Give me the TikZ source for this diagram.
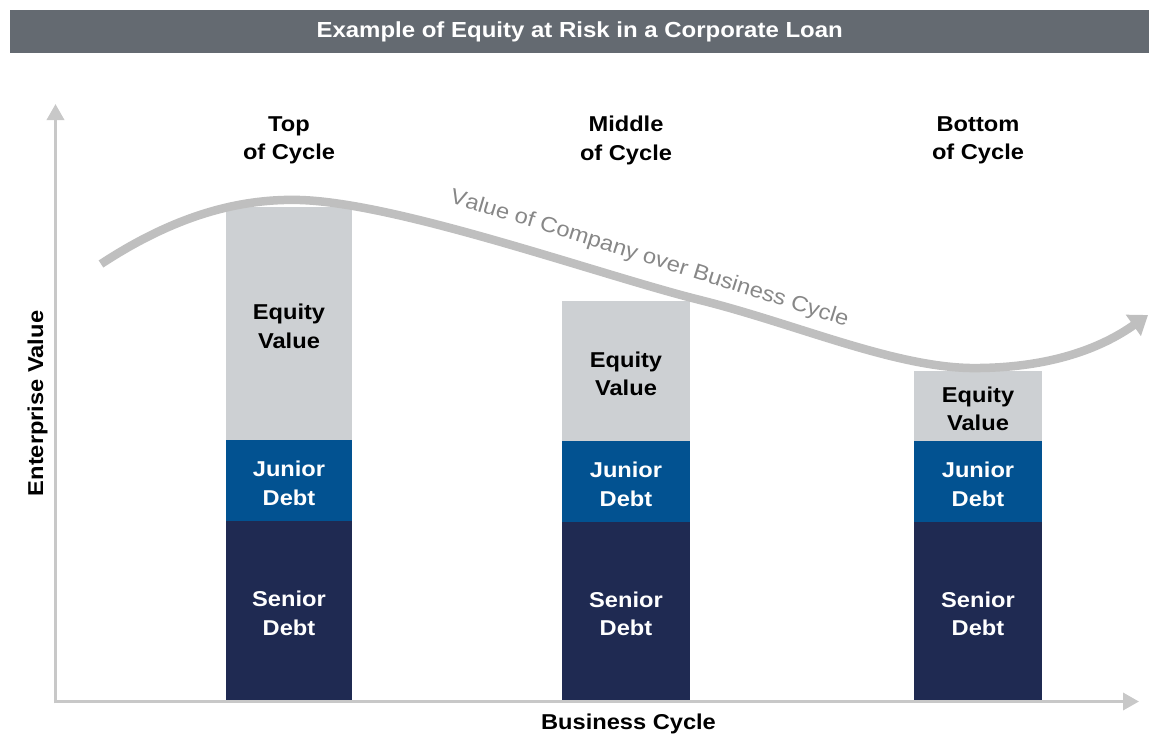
\documentclass[tikz,border=0pt]{standalone}
\usepackage{fontspec}
\setmainfont{Liberation Sans}[FakeStretch=1.1]
\usetikzlibrary{arrows.meta,decorations.text}
\definecolor{titlegray}{RGB}{100,106,113}
\definecolor{axisgray}{RGB}{200,200,200}
\definecolor{curvegray}{RGB}{191,191,191}
\definecolor{labelgray}{RGB}{135,135,135}
\definecolor{equitycol}{RGB}{205,208,211}
\definecolor{juniorcol}{RGB}{2,82,145}
\definecolor{seniorcol}{RGB}{31,42,82}
\newcommand\lowtxt{\rule{0pt}{21pt}}
\begin{document}
\begin{tikzpicture}[x=1pt,y=-1pt,
  lbl/.style={font=\fontsize{21.5}{28.5}\selectfont\bfseries, align=center, inner sep=0pt},
  barseg/.style={lbl, anchor=north west, outer sep=0pt, minimum width=#1},
  equity/.style={barseg=#1, fill=equitycol, text=black},
  junior/.style={barseg=#1, fill=juniorcol, text=white, minimum height=81pt},
  senior/.style={barseg=#1, fill=seniorcol, text=white, minimum height=178pt},
  axis/.style={draw=axisgray, line width=3.5pt, shorten <=-1.75pt, -{Triangle[length=16pt,width=17pt]}},
  curve/.style={draw=curvegray, line width=8.5pt, -{Triangle[length=18pt,width=25pt]}}]
\useasboundingbox (0,0) rectangle (1149,736);

% title bar
\node[lbl, font=\fontsize{21.8}{26}\selectfont\bfseries, anchor=north west, fill=titlegray, text=white, minimum width=1139pt, minimum height=43pt] (title) at (10,10) {Example of Equity at Risk in a Corporate Loan};

% axes
\coordinate (origin) at (55.5,701.5);
\coordinate (ytip) at (55.5,104);
\coordinate (xtip) at (1139,701.5);
\draw[axis] (origin) -- (ytip);
\draw[axis] (origin) -- (xtip);
\node[lbl, rotate=90, anchor=base] (ylabel) at (43,403.5) {Enterprise Value};
\node[lbl, anchor=base] (xlabel) at (628.5,729) {Business Cycle};

% column headers
\node[lbl] (htop) at (289,140.5) {Top\\of Cycle};
\node[lbl] (hmid) at (626,140.5) {Middle\\of Cycle};
\node[lbl] (hbot) at (978,140.5) {Bottom\\of Cycle};

% top of cycle bar
\node[equity=126pt, minimum height=233pt] (teq) at (226,207) {\lowtxt Equity\\Value};
\node[junior=126pt] (tjr) at (226,440) {\lowtxt Junior\\Debt};
\node[senior=126pt, minimum height=179pt] (tsr) at (226,521) {\lowtxt Senior\\Debt};

% middle of cycle bar
\node[equity=128pt, minimum height=140pt] (meq) at (562,301) {\lowtxt Equity\\Value};
\node[junior=128pt] (mjr) at (562,441) {\lowtxt Junior\\Debt};
\node[senior=128pt] (msr) at (562,522) {\lowtxt Senior\\Debt};

% bottom of cycle bar
\node[equity=128pt, minimum height=70pt] (beq) at (914,371) {\lowtxt Equity\\Value};
\node[junior=128pt] (bjr) at (914,441) {\lowtxt Junior\\Debt};
\node[senior=128pt] (bsr) at (914,522) {\lowtxt Senior\\Debt};

% value curve
\coordinate (c0) at (101,264);
\coordinate (c1) at (300,200);
\coordinate (c2) at (700,300);
\coordinate (c3) at (980,368);
\coordinate (c4) at (1148,315);
\draw[curve] (c0) .. controls (165,222) and (230,198) .. (c1)
  .. controls (400,203) and (600,275) .. (c2)
  .. controls (800,325) and (900,370) .. (c3)
  .. controls (1050,367) and (1100,349) .. (c4);

\path[decorate, decoration={text along path, text color=labelgray, text align=center,
  text={|\fontsize{21.5}{26}\selectfont|Value of Company over Business Cycle}}]
  (443,201) .. controls (580,241) and (720,287) .. (852,328);
\end{tikzpicture}
\end{document}
